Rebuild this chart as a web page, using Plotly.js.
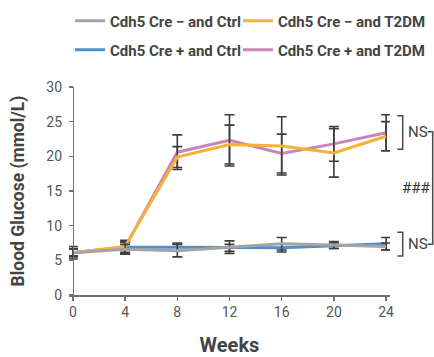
<!DOCTYPE html>
<html>
<head>
<meta charset="utf-8">
<script src="https://cdn.plot.ly/plotly-3.0.1.min.js"></script>
<style>html,body{margin:0;padding:0;background:#fff;}#chart{width:434px;height:357px;}</style>
</head>
<body>
<div id="chart"></div>
<script>
const weeks = [0, 4, 8, 12, 16, 20, 24];
const seriesNames = ["Cdh5 Cre \u2212 and Ctrl", "Cdh5 Cre \u2212 and T2DM", "Cdh5 Cre + and Ctrl", "Cdh5 Cre + and T2DM"];
const creMinusCtrl = [6.1, 6.6, 6.4, 6.9, 7.4, 7.2, 7.0];
const creMinusCtrlErr = [0.5, 0.7, 0.9, 0.9, 0.9, 0.5, 0.5];
const creMinusT2DM = [6.1, 7.0, 19.9, 21.7, 21.5, 20.5, 22.9];
const creMinusT2DMErr = [0.6, 0.6, 1.5, 2.8, 4.2, 3.5, 2.1];
const crePlusCtrl = [6.1, 6.9, 6.9, 6.8, 6.8, 7.1, 7.4];
const crePlusCtrlErr = [0.9, 1.0, 0.6, 0.5, 0.6, 0.4, 0.9];
const crePlusT2DM = [6.1, 6.9, 20.6, 22.3, 20.4, 21.8, 23.4];
const crePlusT2DMErr = [0.5, 0.8, 2.5, 3.7, 2.8, 2.5, 2.6];
const yTicks = [0, 5, 10, 15, 20, 25, 30];
const xTicks = [0, 4, 8, 12, 16, 20, 24];

const colors = {gray: "#a3a3a3", orange: "#f5b236", blue: "#4d8fcf", pink: "#c985b9"};
const errColor = "#3d3d3d";

function tr(name, y, err, color, legend) {
  return {
    x: weeks, y: y, name: name, type: "scatter", mode: "lines",
    line: {color: color, width: 3},
    error_y: {type: "data", array: err, visible: true, color: errColor, thickness: 1.6, width: 5},
    legend: legend
  };
}

const data = [
  tr(seriesNames[2], crePlusCtrl, crePlusCtrlErr, colors.blue, "legend3"),
  tr(seriesNames[3], crePlusT2DM, crePlusT2DMErr, colors.pink, "legend4"),
  tr(seriesNames[1], creMinusT2DM, creMinusT2DMErr, colors.orange, "legend2"),
  tr(seriesNames[0], creMinusCtrl, creMinusCtrlErr, colors.gray, "legend")
];

const W = 434, H = 357, L = 69, R = 44, T = 87, B = 62;
const pw = W - L - R, ph = H - T - B;
const px = v => (v - L) / pw;
const py = v => (H - B - v) / ph;
const lineStyle = {color: "#4a4a4a", width: 1.5};

const legendCommon = {
  orientation: "h", xanchor: "left", yanchor: "middle", xref: "container", yref: "container",
  font: {family: "Roboto, sans-serif", size: 15, color: "#444", weight: "bold"},
  bgcolor: "rgba(0,0,0,0)", borderwidth: 0, itemclick: false
};
const leg = (xp, yp) => Object.assign({}, legendCommon, {x: xp / W, y: 1 - yp / H});

const layout = {
  width: W, height: H,
  margin: {l: L, r: R, t: T, b: B, pad: 0, autoexpand: false},
  paper_bgcolor: "#fff", plot_bgcolor: "#fff",
  font: {family: "Roboto, sans-serif", color: "#555"},
  showlegend: true,
  legend: leg(70, 21),
  legend2: leg(238, 21),
  legend3: leg(70, 50),
  legend4: leg(238, 50),
  xaxis: {
    range: [-0.3, 24.3], tickvals: xTicks, ticktext: xTicks.map(String),
    showgrid: false, zeroline: false, showline: true, linecolor: "#707070", linewidth: 1.5,
    ticks: "outside", ticklen: 4, tickcolor: "#707070", tickwidth: 1.5,
    tickfont: {size: 14, color: "#555"},
    title: {text: "Weeks", font: {size: 20, color: "#444", weight: "bold"}, standoff: 28}
  },
  yaxis: {
    range: [0, 30], tickvals: yTicks, ticktext: yTicks.map(String),
    anchor: "free", position: 0.3 / 24.6,
    showgrid: false, zeroline: false, showline: true, linecolor: "#707070", linewidth: 1.5,
    ticks: "outside", ticklen: 4, tickcolor: "#707070", tickwidth: 1.5,
    ticklabelstandoff: 4,
    tickfont: {size: 14, color: "#555"},
    title: {text: "Blood Glucose (mmol/L)", font: {size: 17.5, color: "#444", weight: "bold"}, standoff: 15}
  },
  shapes: [
    {type: "path", xref: "paper", yref: "paper", line: lineStyle,
     path: `M${px(397.3)},${py(115.7)} L${px(402.7)},${py(115.7)} L${px(402.7)},${py(149.3)} L${px(397.3)},${py(149.3)}`},
    {type: "path", xref: "paper", yref: "paper", line: lineStyle,
     path: `M${px(397.3)},${py(232.3)} L${px(402.7)},${py(232.3)} L${px(402.7)},${py(256)} L${px(397.3)},${py(256)}`},
    {type: "path", xref: "paper", yref: "paper", line: lineStyle,
     path: `M${px(427.5)},${py(131.7)} L${px(432.7)},${py(131.7)} L${px(432.7)},${py(244.3)} L${px(427.5)},${py(244.3)}`}
  ],
  annotations: [
    {text: "NS", xref: "paper", yref: "paper", x: px(406), y: py(131.7), xanchor: "left", yanchor: "middle",
     showarrow: false, font: {size: 15, color: "#444"}},
    {text: "NS", xref: "paper", yref: "paper", x: px(406), y: py(244.3), xanchor: "left", yanchor: "middle",
     showarrow: false, font: {size: 15, color: "#444"}},
    {text: "###", xref: "paper", yref: "paper", x: px(416), y: py(187.7), xanchor: "center", yanchor: "middle",
     showarrow: false, font: {size: 15, color: "#333"}}
  ]
};

Plotly.newPlot("chart", data, layout, {displayModeBar: false, staticPlot: true});
</script>
</body>
</html>
